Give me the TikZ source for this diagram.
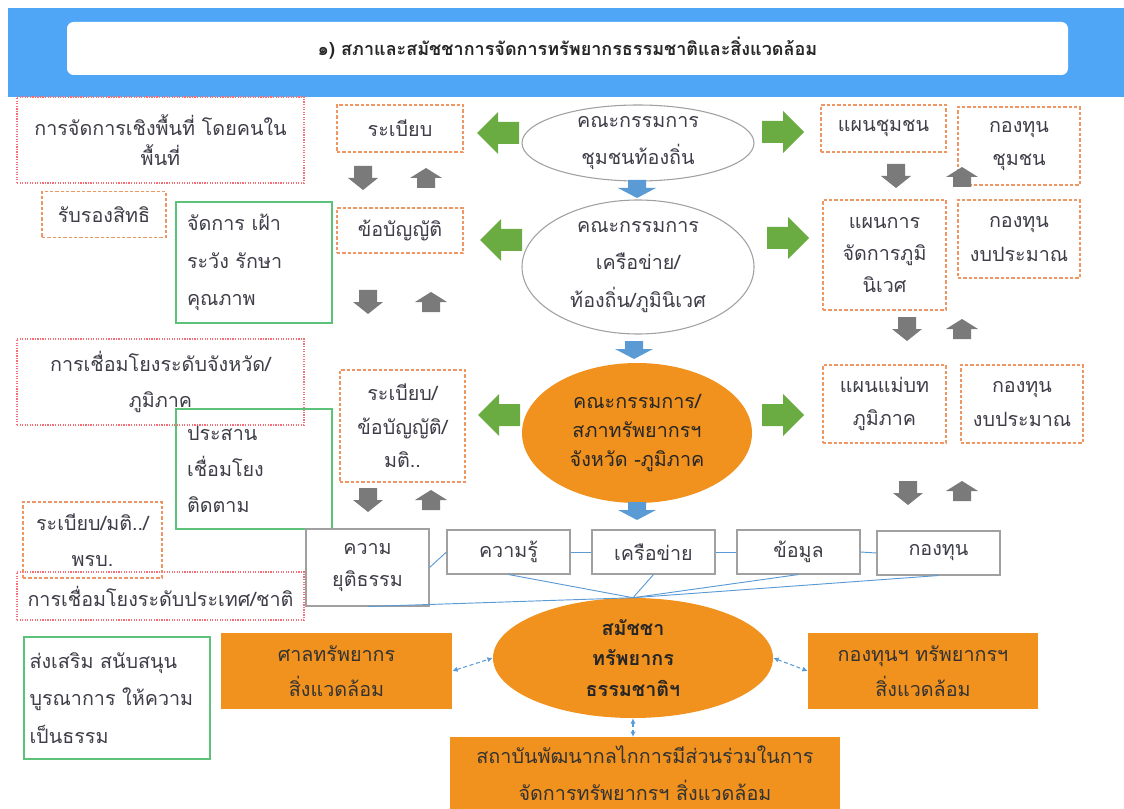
\documentclass[tikz,border=0pt]{standalone}
\usepackage{fontspec}
\setmainfont[Script=Thai]{Loma}
\usetikzlibrary{shapes.geometric,arrows.meta}
\definecolor{bannerc}{RGB}{80,166,246}
\definecolor{redc}{RGB}{246,110,118}
\definecolor{dorange}{RGB}{238,150,100}
\definecolor{greenc}{RGB}{92,194,122}
\definecolor{grayc}{RGB}{160,160,160}
\definecolor{orangec}{RGB}{241,145,30}
\definecolor{bluel}{RGB}{91,155,213}
\definecolor{garrowc}{RGB}{106,172,66}
\definecolor{grarrowc}{RGB}{122,122,122}
\definecolor{txt}{RGB}{62,62,72}
\newcommand\tf[1]{\fontsize{14.8pt}{#1}\selectfont}
\tikzset{
 every node/.style={text=txt, inner sep=0pt, align=center},
 sz/.style 2 args={minimum width=#1*0.75pt, minimum height=#2*0.75pt},
 redbox/.style={draw=redc, densely dotted, line width=0.9pt},
 dbox/.style={draw=dorange, dash pattern=on 2.5pt off 1.5pt, line width=0.9pt},
 gbox/.style={draw=greenc, line width=0.9pt, align=left, inner xsep=8pt},
 graybox/.style={draw=grayc, line width=0.8pt, fill=white},
 wel/.style={ellipse, draw=grayc, line width=0.8pt, fill=white},
 oel/.style={ellipse, fill=orangec, text=black!85},
 obox/.style={fill=orangec, text=black!80},
 lk/.style={draw=bluel, line width=0.7pt},
 darr/.style={draw=bluel, densely dashed, line width=0.8pt, {Latex[length=4pt,width=4pt]}-{Latex[length=4pt,width=4pt]}},
 rarrow/.pic={\fill[pic actions] (-21,-11) -- (0,-11) -- (0,-21) -- (21,0) -- (0,21) -- (0,11) -- (-21,11) -- cycle;},
 larrow/.pic={\fill[pic actions] (21,-11) -- (0,-11) -- (0,-21) -- (-21,0) -- (0,21) -- (0,11) -- (21,11) -- cycle;},
 darrow/.pic={\fill[pic actions] (-9,-12) -- (9,-12) -- (9,0) -- (15,0) -- (0,12) -- (-15,0) -- (-9,0) -- cycle;},
 uarrow/.pic={\fill[pic actions] (-9,10) -- (9,10) -- (9,0) -- (16,0) -- (0,-10) -- (-16,0) -- (-9,0) -- cycle;},
 barrow/.pic={\fill[pic actions] (-9,-9) -- (9,-9) -- (9,-1) -- (19,-1) -- (0,9) -- (-19,-1) -- (-9,-1) -- cycle;},
}
\begin{document}
\begin{tikzpicture}[x=0.75pt,y=-0.75pt]
\useasboundingbox (0,0) rectangle (1124,809);
% banner
\fill[bannerc] (8,8) rectangle (1124,97);
\node[fill=white, rounded corners=5pt, sz={1001}{53}, font=\fontsize{13.5pt}{15pt}\selectfont\bfseries, text=black!85] (title) at (567.5,48.5) {๑) สภาและสมัชชาการจัดการทรัพยากรธรรมชาติและสิ่งแวดล้อม};
% left column
\node[redbox, sz={287}{86}, font=\tf{23pt}] (loc1) at (160.5,140) {การจัดการเชิงพื้นที่ โดยคนใน\\พื้นที่};
\node[dbox, sz={124}{46}, font=\tf{20pt}] (rights) at (104,214.5) {รับรองสิทธิ};
\node[gbox, sz={156}{121}, text width=134*0.75pt, font=\tf{28pt}] (g1) at (254,262.5) {จัดการ เฝ้า\\ระวัง รักษา\\คุณภาพ};
\node[redbox, sz={287}{86}, font=\tf{27pt}] (loc2) at (160.5,382) {การเชื่อมโยงระดับจังหวัด/\\ภูมิภาค};
\node[gbox, sz={156}{120}, text width=134*0.75pt, font=\tf{27pt}] (g2) at (254,469) {ประสาน\\เชื่อมโยง\\ติดตาม};
\node[dbox, sz={139}{76}, font=\tf{27pt}] (reg3) at (92.5,540) {ระเบียบ/มติ../\\พรบ.};
\node[redbox, sz={287}{48}, font=\tf{20pt}] (loc3) at (160.5,596) {การเชื่อมโยงระดับประเทศ/ชาติ};
\node[gbox, sz={186}{122}, inner xsep=4pt, text width=175*0.75pt, font=\tf{28pt}] (g3) at (117,698) {ส่งเสริม สนับสนุน\\บูรณาการ ให้ความ\\เป็นธรรม};
% centre-left column
\node[dbox, sz={126}{47}, font=\tf{20pt}] (reg1) at (400,128.5) {ระเบียบ};
\node[dbox, sz={126}{45}, font=\tf{20pt}] (bylaw) at (400,230.5) {ข้อบัญญัติ};
\node[dbox, sz={125}{112}, font=\tf{25pt}] (reg2) at (402.5,426) {ระเบียบ/\\ข้อบัญญัติ/\\มติ..};
% ellipses
\node[wel, sz={232}{76}, font=\tf{28pt}] (e1) at (638,143) {คณะกรรมการ\\ชุมชนท้องถิ่น};
\node[wel, sz={232}{134}, font=\tf{28pt}] (e2) at (638,267) {คณะกรรมการ\\เครือข่าย/\\ท้องถิ่น/ภูมินิเวศ};
\node[oel, sz={230}{140}, font=\tf{22pt}] (e3) at (637,433) {คณะกรรมการ/\\สภาทรัพยากรฯ\\จังหวัด -ภูมิภาค};
% right column
\node[dbox, sz={125}{47}, font=\tf{20pt}] (plan1) at (883.5,128.5) {แผนชุมชน};
\node[dbox, sz={122}{78}, font=\tf{25pt}] (cfund) at (1019,146) {กองทุน\\ชุมชน};
\node[dbox, sz={123}{110}, font=\tf{24pt}] (plan2) at (884.5,255) {แผนการ\\จัดการภูมิ\\นิเวศ};
\node[dbox, sz={122}{78}, font=\tf{25pt}] (bud1) at (1019,239) {กองทุน\\งบประมาณ};
\node[dbox, sz={123}{78}, font=\tf{25pt}] (plan3) at (884.5,404) {แผนแม่บท\\ภูมิภาค};
\node[dbox, sz={122}{78}, font=\tf{25pt}] (bud2) at (1022,404) {กองทุน\\งบประมาณ};
% block arrows
\pic[fill=garrowc] at (498,133) {larrow};
\pic[fill=garrowc] at (501,240) {larrow};
\pic[fill=garrowc] at (499,415) {larrow};
\pic[fill=garrowc] at (783,132) {rarrow};
\pic[fill=garrowc] at (788,238) {rarrow};
\pic[fill=garrowc] at (783,415) {rarrow};
\pic[fill=grarrowc] at (363,178) {darrow};
\pic[fill=grarrowc] at (426,178) {uarrow};
\pic[fill=grarrowc] at (368,302) {darrow};
\pic[fill=grarrowc] at (431,302) {uarrow};
\pic[fill=grarrowc] at (368,500) {darrow};
\pic[fill=grarrowc] at (431,500) {uarrow};
\pic[fill=grarrowc] at (896,176) {darrow};
\pic[fill=grarrowc] at (962,177) {uarrow};
\pic[fill=grarrowc] at (907,329) {darrow};
\pic[fill=grarrowc] at (962,329) {uarrow};
\pic[fill=grarrowc] at (908,493) {darrow};
\pic[fill=grarrowc] at (962,491) {uarrow};
\pic[fill=bluel] at (637,189) {barrow};
\pic[fill=bluel] at (634,350) {barrow};
\pic[fill=bluel] at (637,511) {barrow};
% bottom: assembly
\node[oel, sz={280}{120}, font=\fontsize{14.8pt}{23pt}\selectfont\bfseries] (asm) at (633,658) {สมัชชา\\ทรัพยากร\\ธรรมชาติฯ};
% grey boxes row
\node[graybox, sz={123}{77}, font=\tf{24pt}] (just) at (367.5,567.5) {ความ\\ยุติธรรม};
\node[graybox, sz={123}{44}, font=\tf{20pt}] (know) at (508.5,552) {ความรู้};
\node[graybox, sz={123}{44}, font=\tf{20pt}] (net) at (653.5,552) {เครือข่าย};
\node[graybox, sz={123}{44}, font=\tf{20pt}] (data) at (798.5,552) {ข้อมูล};
\node[graybox, sz={123}{44}, font=\tf{20pt}] (fund) at (938.5,553) {กองทุน};
\draw[lk] (just.east) -- (know.west);
\draw[lk] (know.east) -- (net.west);
\draw[lk] (net.east) -- (data.west);
\draw[lk] (data.east) -- (fund.west);
\draw[lk] (just.south) -- (asm.north);
\draw[lk] (know.south) -- (asm.north);
\draw[lk] (net.south) -- (asm.north);
\draw[lk] (data.south) -- (asm.north);
\draw[lk] (fund.south) -- (asm.north);
% orange boxes
\node[obox, sz={231}{76}, font=\tf{26pt}] (court) at (336.5,671) {ศาลทรัพยากร\\สิ่งแวดล้อม};
\node[obox, sz={230}{76}, font=\tf{26pt}] (fundr) at (923,671) {กองทุนฯ ทรัพยากรฯ\\สิ่งแวดล้อม};
\node[obox, sz={390}{72}, anchor=north, font=\tf{28pt}] (inst) at (645,737) {สถาบันพัฒนากลไกการมีส่วนร่วมในการ\\จัดการทรัพยากรฯ สิ่งแวดล้อม};
\draw[darr] (court.east) -- (asm.west);
\draw[darr] (asm.east) -- (fundr.west);
\draw[darr] (asm.south) -- (asm.south |- inst.north);
\end{tikzpicture}
\end{document}
